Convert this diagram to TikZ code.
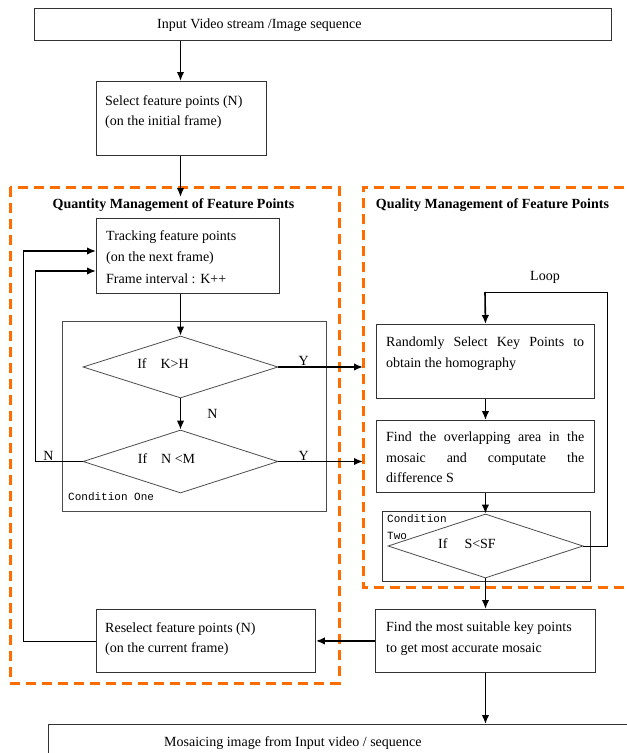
\documentclass[tikz,border=0pt]{standalone}
\usepackage{fontspec}
\setmainfont{Liberation Serif}
\setmonofont{Liberation Mono}
\usetikzlibrary{shapes.geometric}
\usetikzlibrary{arrows.meta}
\usetikzlibrary{positioning}
\definecolor{dashorange}{RGB}{255,108,0}
\hbadness=10000

\begin{document}
\begin{tikzpicture}[x=1pt,y=-1pt,>={Latex[length=9pt,width=7.5pt]},
    stage/.style={draw=black!80,line width=0.9pt,anchor=north west,inner sep=0pt},
    stagetext/.style={inner sep=0pt,align=left,font=\fontsize{14}{20.5}\selectfont},
    justtext/.style={inner sep=0pt,text width=198pt,align=justify,font=\fontsize{14}{20.5}\selectfont},
    decision/.style={diamond,draw=black!70,line width=0.8pt,minimum width=195pt,minimum height=62pt,inner sep=0pt},
    plain/.style={inner sep=0pt,font=\fontsize{14}{16}\selectfont},
    condlabel/.style={inner sep=0pt,align=left,font=\ttfamily\fontsize{11}{17}\selectfont},
    regiontitle/.style={inner sep=0pt,font=\bfseries\fontsize{14}{16}\selectfont},
    region/.style={draw=dashorange,line width=3pt,dash pattern=on 10pt off 6pt},
    flow/.style={->,line width=1.6pt},
    link/.style={line width=0.9pt}]
    \useasboundingbox (0,0) rectangle (627,753);
    \clip (0,0) rectangle (627,753);

    % dashed regions
    \draw[region] (10,187) rectangle (339,683);
    \draw[region] (640,187) -- (363,187) -- (363,587) -- (640,587);
    \node[regiontitle] (quantity) at (173.5,205) {Quantity Management of Feature Points};
    \node[regiontitle] (quality) at (492.5,205) {Quality Management of Feature Points};

    % boxes
    \node[stage,minimum width=577pt,minimum height=32pt] (input) at (34,8) {};
    \node[stagetext,anchor=base west] (inputtext) at (157,28.5) {Input Video stream /Image sequence};
    \node[stage,minimum width=170pt,minimum height=74pt] (select) at (96,81) {};
    \node[stagetext,font=\fontsize{14}{20}\selectfont,below right=14pt and 9pt of select.north west] (selecttext)
      {Select feature points (N)\\(on the initial frame)};
    \node[stage,minimum width=183pt,minimum height=75pt] (tracking) at (96,218) {};
    \node[stagetext,font=\fontsize{14}{21.5}\selectfont,below right=12pt and 10pt of tracking.north west] (trackingtext)
      {Tracking feature points\\(on the next frame)\\Frame interval : K++};
    \node[stage,draw=black!70,minimum width=264pt,minimum height=190pt] (condone) at (62,321) {};
    \node[condlabel,anchor=west] (condonetext) at (68,497) {Condition One};
    \node[stage,minimum width=218pt,minimum height=74pt] (randomly) at (376,324) {};
    \node[justtext,below right=13pt and 10pt of randomly.north west] (randomlytext)
      {Randomly Select Key Points to\linebreak obtain the homography};
    \node[stage,minimum width=218pt,minimum height=72pt] (overlap) at (376,420) {};
    \node[justtext,below right=12pt and 10pt of overlap.north west] (overlaptext)
      {Find the overlapping area in the\linebreak mosaic and computate the\linebreak difference S};
    \node[stage,minimum width=208pt,minimum height=70pt] (condtwo) at (382,511) {};
    \node[condlabel,anchor=north west] (condtwotext) at (387,514) {Condition\\Two};
    \node[stage,minimum width=220pt,minimum height=63pt] (findmost) at (375,609) {};
    \node[stagetext,below right=13pt and 11pt of findmost.north west] (findmosttext)
      {Find the most suitable key points\\to get most accurate mosaic};
    \node[stage,minimum width=219pt,minimum height=63pt] (reselect) at (96,609) {};
    \node[stagetext,below right=13pt and 9pt of reselect.north west] (reselecttext)
      {Reselect feature points (N)\\(on the current frame)};
    \node[stage,minimum width=620pt,minimum height=60pt] (output) at (48,724) {};
    \node[stagetext,anchor=base west] (outputtext) at (164,746.5) {Mosaicing image from Input video / sequence};

    % decisions
    \node[decision] (ifkh) at (180.5,367) {};
    \node[plain] (ifkhtext) at (163,364) {If\quad K>H};
    \node[decision,minimum height=63pt] (ifnm) at (180.5,461.5) {};
    \node[plain] (ifnmtext) at (166.5,459) {If\quad N <M};
    \node[decision,minimum height=64pt] (ifssf) at (485.5,546) {};
    \node[plain] (ifssftext) at (467,544) {If\hspace{17pt}S<SF};

    % free ends and corners
    \coordinate (qtop) at (180.5,197);
    \coordinate (yin1) at (363,367);
    \coordinate (yin2) at (363,461.5);
    \coordinate (back1) at (23,251);
    \coordinate (back2) at (35,271);
    \coordinate (loopright) at (607,292);
    \coordinate (looptop) at (485,292);

    % connectors
    \draw[flow] (input.south -| ifkh.north) -- (select.north -| ifkh.north);
    \draw[flow] (select.south -| qtop) -- (qtop);
    \draw[flow] (tracking.south -| ifkh.north) -- (ifkh.north);
    \draw[flow] (ifkh.south) -- node[plain,right=26pt] (nlabel) {N} (ifnm.north);
    \draw[flow] (ifkh.east) -- node[plain,pos=0.3,above=0.5pt] (ylabel1) {Y} (yin1);
    \draw[flow] (ifnm.east) -- node[plain,pos=0.3,above=0.5pt] (ylabel2) {Y} (yin2);
    \draw[link] (ifnm.west) -- node[plain,pos=0.72,above=0.5pt] (nback) {N} (ifnm.west -| back2) -- (back2);
    \draw[flow] (back2) -- (back2 -| tracking.west);
    \draw[link] (reselect.west) -| (back1);
    \draw[flow] (back1) -- (back1 -| tracking.west);
    \draw[flow] (randomly) -- (overlap);
    \draw[flow] (overlap.south) -- (overlap.south |- ifssf.north);
    \draw[link] (ifssf.east) -| (loopright) -- (looptop);
    \draw[flow] (looptop) -- (randomly.north);
    \node[plain] (loop) at (545,277) {Loop};
    \draw[flow] (ifssf.south) -- (ifssf.south |- findmost.north);
    \draw[flow] (findmost) -- (reselect);
    \draw[flow] (findmost.south) -- (findmost.south |- output.north);
\end{tikzpicture}
\end{document}
